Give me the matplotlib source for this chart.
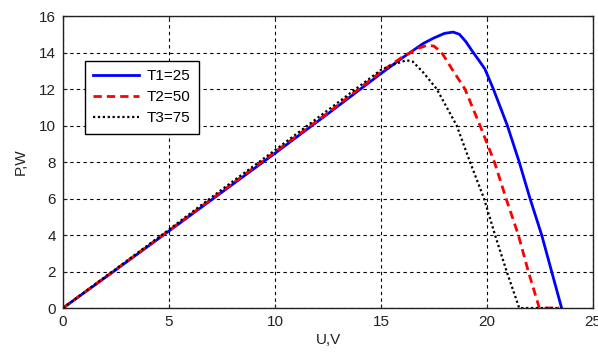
import matplotlib
matplotlib.use("Agg")
import matplotlib.pyplot as plt

plt.rcParams['font.family'] = ['Liberation Sans', 'DejaVu Sans']

# P-U characteristics of the PV module at three cell temperatures
u_t1 = [0, 2.5, 5, 7.5, 10, 12.5, 15, 16, 17, 17.5, 18, 18.4, 18.7, 19.0, 19.35,
        19.6, 19.9, 20.3, 20.96, 21.52, 22.03, 22.58, 23.05, 23.52]
p_t1 = [0, 2.1, 4.22, 6.35, 8.48, 10.65, 12.85, 13.7, 14.5, 14.8, 15.05, 15.12,
        15.0, 14.6, 14.0, 13.6, 13.1, 12.0, 10.0, 8.0, 6.0, 4.0, 2.0, 0]

u_t2 = [0, 2.5, 5, 7.5, 10, 12.5, 15, 16, 16.8, 17.2, 17.5, 17.86, 18.4, 18.96,
        19.67, 20.35, 20.9, 21.48, 21.95, 22.47, 23.4]
p_t2 = [0, 2.12, 4.25, 6.4, 8.55, 10.7, 12.95, 13.75, 14.25, 14.4, 14.35, 14.0,
        13.0, 12.0, 10.0, 8.0, 6.0, 4.0, 2.0, 0, 0]

u_t3 = [0, 2.5, 5, 7.5, 10, 12.5, 15, 15.5, 16.2, 16.5, 17.0, 17.63, 18.57,
        19.2, 19.86, 20.38, 20.93, 21.52, 23.5]
p_t3 = [0, 2.15, 4.3, 6.5, 8.65, 10.85, 13.05, 13.3, 13.58, 13.5, 12.9, 12.0,
        10.0, 8.0, 6.0, 4.0, 2.0, 0, 0]

labels = ['T1=25', 'T2=50', 'T3=75']

x_ticks = [0, 5, 10, 15, 20, 25]
y_ticks = [0, 2, 4, 6, 8, 10, 12, 14, 16]

fig = plt.figure(figsize=(5.98, 3.56), dpi=100)
ax = fig.add_axes([0.1054, 0.1348, 0.8862, 0.8202])

ax.plot(u_t1, p_t1, color='#0000ff', lw=2.0, ls='-', label=labels[0])
ax.plot(u_t2, p_t2, color='#ff0000', lw=2.0, ls=(0, (3, 1.8)), label=labels[1])
ax.plot(u_t3, p_t3, color='black', lw=1.6, ls=(0, (1, 1.2)), label=labels[2])

ax.set_xlim(0, 25)
ax.set_ylim(0, 16)
ax.set_xticks(x_ticks)
ax.set_yticks(y_ticks)
ax.tick_params(direction='in', top=True, right=True, labelsize=11,
               length=3, width=0.8, colors='#222222', pad=5)
ax.grid(True, color='black', ls=(0, (3, 3)), lw=0.8)
for s in ax.spines.values():
    s.set_linewidth(1.0)
    s.set_color('#222222')

ax.set_xlabel('U,V', fontsize=11, labelpad=3, color='#222222')
ax.set_ylabel('P,W', fontsize=11, labelpad=8, color='#222222')

leg = ax.legend(loc='upper left', bbox_to_anchor=(0.0415, 0.846),
                borderaxespad=0, fontsize=11, fancybox=False,
                framealpha=1, edgecolor='black', handlelength=3.0,
                handletextpad=0.5, labelspacing=0.45, borderpad=0.55)
leg.get_frame().set_linewidth(1.0)

fig.savefig('out.png', dpi=100)
